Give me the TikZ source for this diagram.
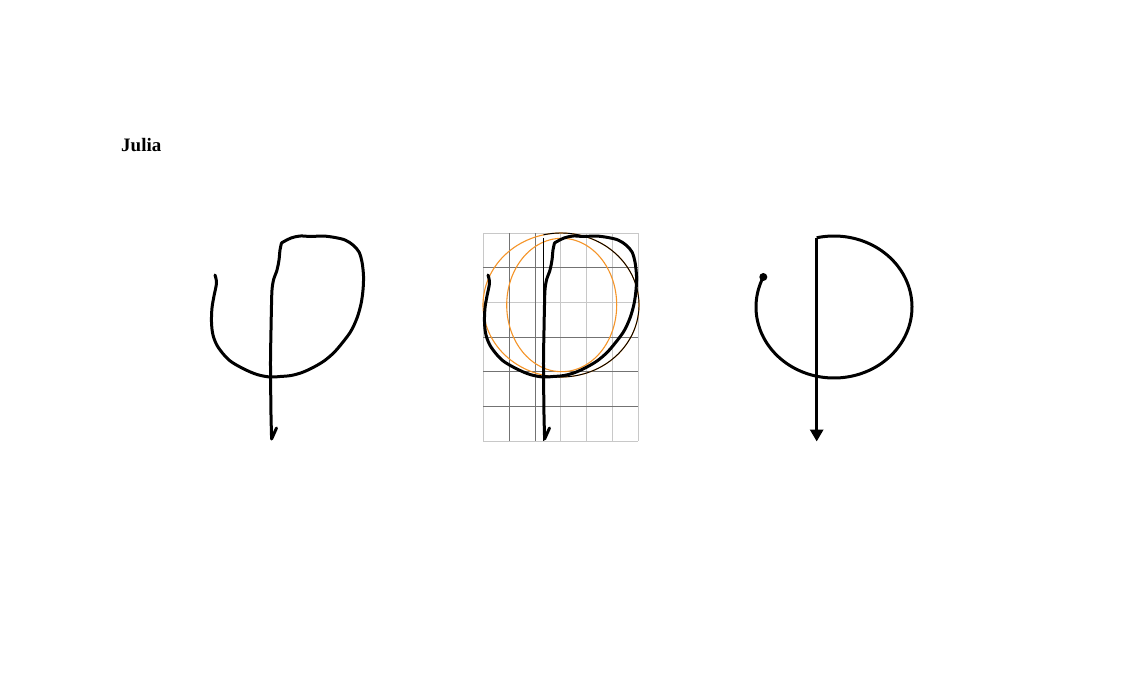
\documentclass[tikz,border=0pt]{standalone}
\usepackage{fontspec}
\setmainfont{Liberation Serif}
\usetikzlibrary{arrows.meta}
\definecolor{fitorange}{RGB}{245,148,40}
\definecolor{griddark}{RGB}{115,115,115}
\definecolor{gridlight}{RGB}{200,200,200}
\tikzset{
  hand/.style={line width=3pt, line cap=round, line join=round},
  gridl/.style={gridlight, line width=0.9pt},
  gridd/.style={griddark, line width=0.9pt},
  fitline/.style={fitorange, line width=1.1pt},
  thinblack/.style={black, line width=0.9pt},
  clean/.style={line width=3pt, line join=round},
}
\newcommand{\handphi}[1]{%
  \begin{scope}[xshift=#1]
    \draw[hand] plot[smooth, tension=0.55] coordinates {
      (215,275) (216.5,283) (214,296) (212,308) (211.5,322) (213,335)
      (218,347) (229,360) (243,368.5) (257,374.5) (270,377)
      (280,376.5) (291,375.5) (302,372.5) (313,367.5)
      (324,361) (334,352.5) (343,342) (351,331) (357,318) (361,304)
      (363,290) (363.5,276) (362,262) (359,252) (353,245) (345,240)
      (335,237.5) (323,236) (311,236.5) (300,236) (291,238) (284,241.5)
      (281.5,243)};
    \draw[hand] plot[smooth, tension=0.55] coordinates {
      (281.5,243) (280,250) (279,260) (277,270) (273.5,280) (272,290)
      (271.5,305) (271,330) (270.5,360) (270.7,390) (271,415) (271.6,439)}
      -- (276.5,428);
  \end{scope}}
\begin{document}
\begin{tikzpicture}[x=1pt,y=-1pt]
\useasboundingbox (0,0) rectangle (1125,675);
\fill[white] (0,0) rectangle (1125,675);

% title
\node[anchor=base west, inner sep=0pt, font=\bfseries\fontsize{19}{22}\selectfont] (title) at (121,151) {Julia};

% left: handwritten
\handphi{0pt}

% middle: grid
\foreach \k in {0,3,4,5,6} {
  \draw[gridl] ({483.3+\k*25.83},233.3) -- ({483.3+\k*25.83},441);
}
\foreach \k in {0,2,6} {
  \draw[gridl] (483.3,{233.3+\k*34.62}) -- (638.3,{233.3+\k*34.62});
}
\foreach \k in {1,2} {
  \draw[gridd] ({483.3+\k*25.83},233.3) -- ({483.3+\k*25.83},441);
}
\foreach \k in {1,3,4,5} {
  \draw[gridd] (483.3,{233.3+\k*34.62}) -- (638.3,{233.3+\k*34.62});
}
% fitted shapes
\draw[fitline] plot[domain=0:360, samples=120] ({561.7+55*cos(\x)},{305-66.7*sin(\x)});
\draw[fitline] plot[domain=0:360, samples=120] ({561+78*cos(\x)},{305-72*sin(\x)});
\draw[thinblack] plot[domain=-103:103, samples=100] ({561+78*cos(\x)},{305-72*sin(\x)});
\coordinate (mtop) at (543.5,237.8);
\coordinate (mbot) at (543.5,441);
\draw[thinblack] (mtop) -- (mbot);
\handphi{273pt}

% right: clean
\coordinate (dot) at ({834+78*cos(155)},{307-71*sin(155)});
\coordinate (stemtop) at (816.7,{307-71*sin(102.8)});
\coordinate (stembot) at (816.7,441.5);
\fill (dot) circle[radius=4pt];
\draw[clean] plot[domain=155:462.8, samples=160] ({834+78*cos(\x)},{307-71*sin(\x)});
\draw[clean, -{Triangle[width=13pt,length=12pt]}] (stemtop) -- (stembot);
\end{tikzpicture}
\end{document}
